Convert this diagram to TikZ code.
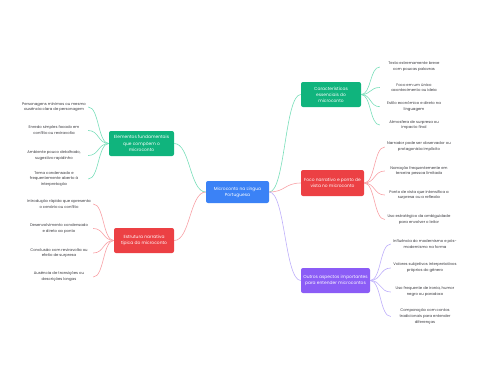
\documentclass[tikz,border=0pt]{standalone}
\usepackage{fontspec}
\setmainfont{Poppins}
\definecolor{cblue}{RGB}{59,130,246}
\definecolor{cgreen}{RGB}{16,180,125}
\definecolor{cred}{RGB}{236,64,68}
\definecolor{cpurple}{RGB}{139,92,246}
\definecolor{lgreen}{RGB}{120,222,185}
\definecolor{lred}{RGB}{248,160,165}
\definecolor{lpurple}{RGB}{190,175,250}
\definecolor{leaftext}{RGB}{55,55,60}
\begin{document}
\begin{tikzpicture}[x=1pt,y=-1pt,
  box/.style={rounded corners=2pt, text=white, align=center, inner sep=1pt,
    font=\fontsize{4.4}{6.2}\selectfont},
  leaf/.style={text=leaftext, align=center, minimum width=68pt, inner sep=1pt,
    font=\fontsize{3.8}{5.9}\selectfont},
  conn/.style={line width=0.6pt}]
\useasboundingbox (0,0) rectangle (480,384);

% central
\node[box, fill=cblue, minimum width=63pt, minimum height=22pt] (c) at (237.5,192) {Microconto na Língua\\Portuguesa};

% branches
\node[box, fill=cgreen, minimum width=65pt, minimum height=25pt] (g1) at (141.5,143.5) {Elementos fundamentais\\que compõem o\\microconto};
\node[box, fill=cred, minimum width=60pt, minimum height=25pt] (r1) at (144,240.5) {Estrutura narrativa\\típica do microconto};
\node[box, fill=cgreen, minimum width=60pt, minimum height=25pt] (g2) at (331,94.5) {Características\\essenciais do\\microconto};
\node[box, fill=cred, minimum width=63pt, minimum height=26pt] (r2) at (332.5,183) {Foco narrativo e ponto de\\vista no microconto};
\node[box, fill=cpurple, minimum width=69pt, minimum height=25pt] (p2) at (335.5,280.5) {Outros aspectos importantes\\para entender microcontos};

% leaves left green
\node[leaf] (a1) at (54,107) {Personagens mínimos ou mesmo\\ausência clara de personagem};
\node[leaf] (a2) at (54,130.5) {Enredo simples focado em\\conflito ou reviravolta};
\node[leaf] (a3) at (54,155.5) {Ambiente pouco detalhado,\\sugestivo rapidinho};
\node[leaf] (a4) at (54,179) {Tema condensado e\\frequentemente aberto à\\interpretação};
% leaves left red
\node[leaf] (b1) at (59,204) {Introdução rápida que apresenta\\o cenário ou conflito};
\node[leaf] (b2) at (59,228.5) {Desenvolvimento condensado\\e direto ao ponto};
\node[leaf] (b3) at (59,253) {Conclusão com reviravolta ou\\efeito de surpresa};
\node[leaf] (b4) at (59,277) {Ausência de transições ou\\descrições longas};
% leaves right green
\node[leaf] (d1) at (414,67) {Texto extremamente breve\\com poucas palavras};
\node[leaf] (d2) at (414,87.5) {Foco em um único\\acontecimento ou ideia};
\node[leaf] (d3) at (414,106.7) {Estilo econômico e direto na\\linguagem};
\node[leaf] (d4) at (414,125) {Atmosfera de surpresa ou\\impacto final};
% leaves right red
\node[leaf] (e1) at (419,147) {Narrador pode ser observador ou\\protagonista implícito};
\node[leaf] (e2) at (419,171) {Narração frequentemente em\\terceira pessoa limitada};
\node[leaf] (e3) at (419,195) {Ponto de vista que intensifica a\\surpresa ou a reflexão};
\node[leaf] (e4) at (419,219.5) {Uso estratégico da ambiguidade\\para envolver o leitor};
% leaves right purple
\node[leaf] (f1) at (425,244) {Influência do modernismo e pós-\\modernismo na forma};
\node[leaf] (f2) at (425,268) {Valores subjetivos interpretativos\\próprios do gênero};
\node[leaf] (f3) at (425,292) {Uso frequente de ironia, humor\\negro ou paradoxo};
\node[leaf] (f4) at (425,316.5) {Comparação com contos\\tradicionais para entender\\diferenças};

% central connectors
\draw[conn, lgreen] (c.west) .. controls +(-16,0) and +(16,0) .. (g1.east);
\draw[conn, lred] (c.west) .. controls +(-16,0) and +(16,0) .. (r1.east);
\draw[conn, lgreen] (c.east) .. controls +(16,0) and +(-16,0) .. (g2.west);
\draw[conn, lred] (c.east) .. controls +(16,0) and +(-16,0) .. (r2.west);
\draw[conn, lpurple] (c.east) .. controls +(16,0) and +(-16,0) .. (p2.west);

% leaf connectors
\foreach \l in {a1,a2,a3,a4}
  \draw[conn, lgreen] (g1.west) .. controls +(-11,0) and +(11,0) .. (\l.east);
\foreach \l in {b1,b2,b3,b4}
  \draw[conn, lred] (r1.west) .. controls +(-11,0) and +(11,0) .. (\l.east);
\foreach \l in {d1,d2,d3,d4}
  \draw[conn, lgreen] (g2.east) .. controls +(10,0) and +(-10,0) .. (\l.west);
\foreach \l in {e1,e2,e3,e4}
  \draw[conn, lred] (r2.east) .. controls +(11,0) and +(-11,0) .. (\l.west);
\foreach \l in {f1,f2,f3,f4}
  \draw[conn, lpurple] (p2.east) .. controls +(11,0) and +(-11,0) .. (\l.west);
\end{tikzpicture}
\end{document}
